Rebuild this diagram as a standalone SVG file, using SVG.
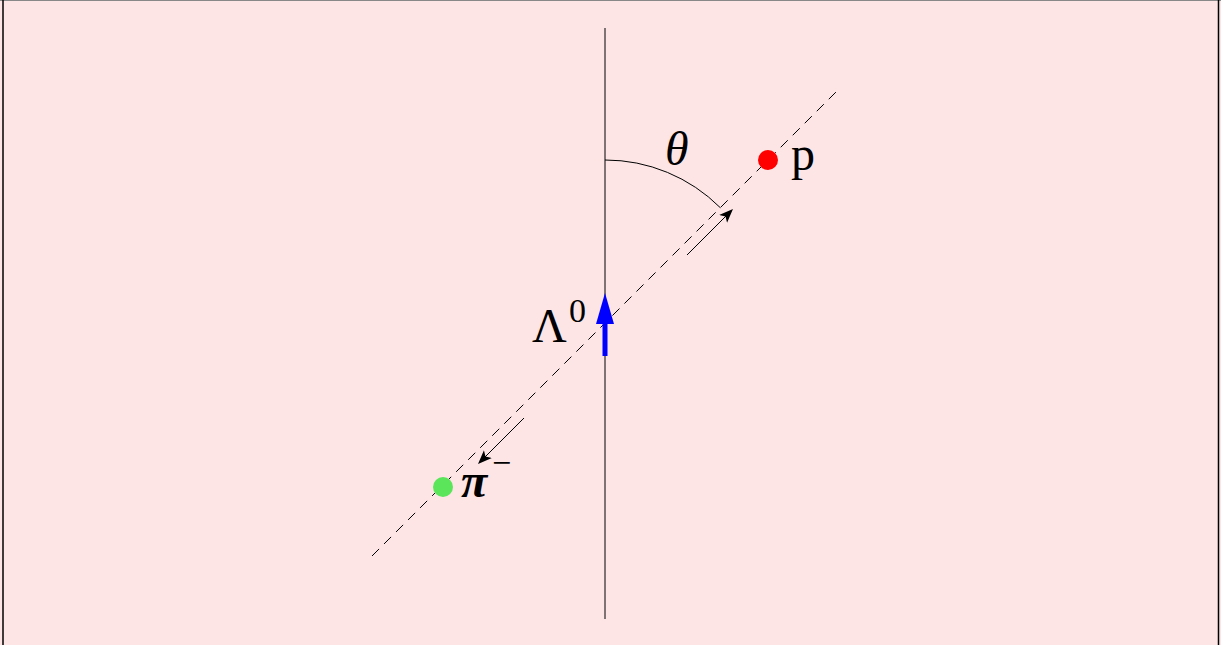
<svg xmlns="http://www.w3.org/2000/svg" width="1221" height="645" viewBox="0 0 1221 645">
<style>
.t{font-family:"Liberation Serif","DejaVu Serif",serif;fill:#000}
.i{font-style:italic}
</style>
<defs>
<marker id="ah" viewBox="0 0 10 10" refX="9" refY="5" markerWidth="14" markerHeight="14" markerUnits="userSpaceOnUse" orient="auto">
<path d="M0,1 L10,5 L0,9 L2.5,5 Z" fill="#000"/>
</marker>
</defs>
<rect x="0" y="0" width="1221" height="645" fill="#fde5e5"/>
<line x1="0" y1="0.5" x2="1221" y2="0.5" stroke="#888" stroke-width="1"/>
<line x1="3" y1="0" x2="3" y2="645" stroke="#000" stroke-width="1.5"/>
<line x1="1218.5" y1="0" x2="1218.5" y2="645" stroke="#000" stroke-width="1.5"/>
<g id="connectors">
<line x1="605" y1="28" x2="605" y2="619" stroke="#000" stroke-width="1"/>
<line x1="372" y1="556" x2="838" y2="90" stroke="#000" stroke-width="1" stroke-dasharray="10,7"/>
<path d="M605,160 A163,163 0 0 1 720.3,207.7" fill="none" stroke="#000" stroke-width="1"/>
<line x1="687" y1="255" x2="732" y2="210" stroke="#000" stroke-width="1" marker-end="url(#ah)"/>
<line x1="524" y1="418" x2="479" y2="463" stroke="#000" stroke-width="1" marker-end="url(#ah)"/>
</g>
<g id="lambda">
<rect x="602.5" y="318" width="5" height="38" fill="#0000ff"/>
<path d="M605,293 L614,324 L596,324 Z" fill="#0000ff"/>
<text class="t" x="532" y="342" font-size="48">Λ</text>
<text class="t" x="569" y="322" font-size="34">0</text>
</g>
<g id="theta">
<text class="t i" x="665" y="165" font-size="48">θ</text>
</g>
<g id="proton">
<circle cx="768" cy="160" r="10" fill="#ff0000"/>
<text class="t" x="791" y="170" font-size="48">p</text>
</g>
<g id="pion">
<circle cx="443" cy="487" r="10" fill="#5be55b"/>
<text class="t i" x="461" y="497" font-size="48" font-weight="bold">π</text>
<text class="t" x="492" y="474" font-size="34">−</text>
</g>
</svg>
